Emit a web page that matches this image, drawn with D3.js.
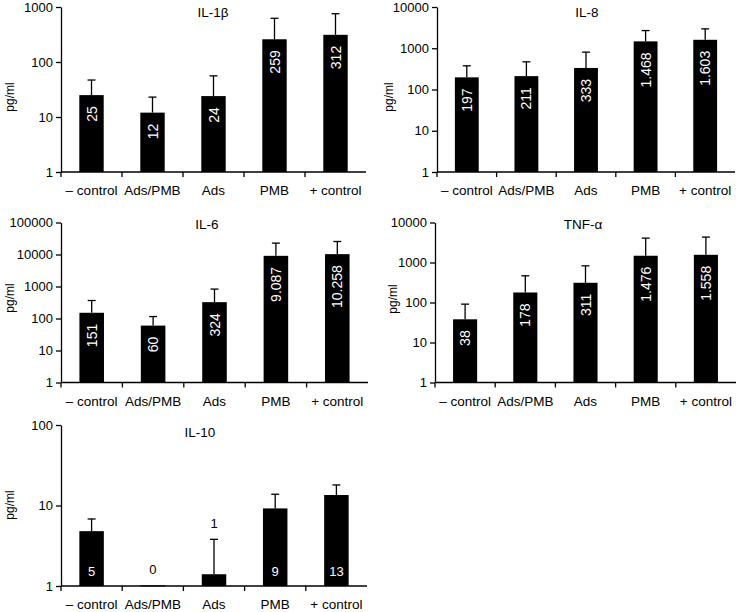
<!DOCTYPE html>
<html>
<head>
<meta charset="utf-8">
<script src="https://cdn.jsdelivr.net/npm/d3@7"></script>
<style>
  html, body { margin: 0; padding: 0; background: #fff; }
  svg { display: block; font-family: "Liberation Sans", Arial, Helvetica, sans-serif; }
</style>
</head>
<body>
<svg id="chart" width="736" height="612"></svg>
<script>
// ---------- data ----------
const categories = ["\u2013 control", "Ads/PMB", "Ads", "PMB", "+ control"];

const il1bTitle = "IL-1\u03B2";
const il1bMeans = [25, 12, 24, 259, 312];
const il1bErrTop = [47, 23, 56, 623, 755];
const il1bLabels = ["25", "12", "24", "259", "312"];
const il1bTicks = [1, 10, 100, 1000];

const il8Title = "IL-8";
const il8Means = [197, 211, 333, 1468, 1603];
const il8ErrTop = [375, 469, 805, 2684, 2950];
const il8Labels = ["197", "211", "333", "1.468", "1.603"];
const il8Ticks = [1, 10, 100, 1000, 10000];

const il6Title = "IL-6";
const il6Means = [151, 60, 324, 9087, 10258];
const il6ErrTop = [365, 115, 830, 22700, 25500];
const il6Labels = ["151", "60", "324", "9.087", "10.258"];
const il6Ticks = [1, 10, 100, 1000, 10000, 100000];

const tnfTitle = "TNF-\u03B1";
const tnfMeans = [38, 178, 311, 1476, 1558];
const tnfErrTop = [91, 465, 826, 4070, 4315];
const tnfLabels = ["38", "178", "311", "1.476", "1.558"];
const tnfTicks = [1, 10, 100, 1000, 10000];

const il10Title = "IL-10";
const il10Means = [4.8, 1.02, 1.4, 9.2, 13.5];
const il10ErrTop = [6.8, null, 3.8, 13.8, 18];
const il10Labels = ["5", "0", "1", "9", "13"];
const il10Ticks = [1, 10, 100];

const yLabel = "pg/ml";

// ---------- layout ----------
const panels = [
  { title: il1bTitle, means: il1bMeans, err: il1bErrTop, labels: il1bLabels, ticks: il1bTicks,
    x0: 61, x1: 366, yTop: 7, yBot: 172, titleX: 213, titleY: 17, ylabX: 10, ylabY: 97, rotated: true },
  { title: il8Title, means: il8Means, err: il8ErrTop, labels: il8Labels, ticks: il8Ticks,
    x0: 437, x1: 735, yTop: 7, yBot: 172, titleX: 587, titleY: 17, ylabX: 389, ylabY: 97, rotated: true },
  { title: il6Title, means: il6Means, err: il6ErrTop, labels: il6Labels, ticks: il6Ticks,
    x0: 61, x1: 368, yTop: 222.5, yBot: 382.5, titleX: 207, titleY: 229, ylabX: 10, ylabY: 298, rotated: true },
  { title: tnfTitle, means: tnfMeans, err: tnfErrTop, labels: tnfLabels, ticks: tnfTicks,
    x0: 435, x1: 736, yTop: 222.5, yBot: 382.5, titleX: 583, titleY: 229, ylabX: 393, ylabY: 299, rotated: true },
  { title: il10Title, means: il10Means, err: il10ErrTop, labels: il10Labels, ticks: il10Ticks,
    x0: 61, x1: 367, yTop: 425, yBot: 586, titleX: 200, titleY: 437, ylabX: 10, ylabY: 505, rotated: false }
];

const svg = d3.select("#chart");
const SW = 1.3;

panels.forEach(p => {
  const g = svg.append("g");
  const y = d3.scaleLog().domain([p.ticks[0], p.ticks[p.ticks.length - 1]]).range([p.yBot, p.yTop]);
  const x = d3.scaleBand().domain(categories).range([p.x0, p.x1]).paddingInner(0.6).paddingOuter(0.3);
  const step = (p.x1 - p.x0) / categories.length;

  // y axis
  const yAxis = d3.axisLeft(y).tickValues(p.ticks).tickFormat(d3.format("d")).tickSize(5).tickSizeOuter(0).tickPadding(3);
  const ya = g.append("g").attr("transform", `translate(${p.x0},0)`).call(yAxis);
  ya.select(".domain").attr("stroke", "#000").attr("stroke-width", SW);
  ya.selectAll(".tick line").attr("stroke", "#000").attr("stroke-width", SW);
  ya.selectAll(".tick text").attr("font-size", 13).attr("fill", "#000")
    .attr("font-family", "'Liberation Sans', Arial, Helvetica, sans-serif");

  // x axis line and boundary ticks
  g.append("line").attr("x1", p.x0).attr("x2", p.x1).attr("y1", p.yBot).attr("y2", p.yBot)
    .attr("stroke", "#000").attr("stroke-width", SW);
  g.selectAll(".xtick").data(d3.range(0, categories.length)).enter().append("line")
    .attr("x1", i => p.x0 + i * step).attr("x2", i => p.x0 + i * step)
    .attr("y1", p.yBot).attr("y2", p.yBot + 5)
    .attr("stroke", "#000").attr("stroke-width", SW);

  // category labels
  g.selectAll(".cat").data(categories).enter().append("text")
    .attr("x", d => x(d) + x.bandwidth() / 2).attr("y", p.yBot + 23)
    .attr("text-anchor", "middle").attr("font-size", 13.5).attr("fill", "#000")
    .text(d => d);

  // error bars
  const eb = categories.map((c, i) => ({ c, m: p.means[i], e: p.err[i] })).filter(d => d.e != null);
  g.selectAll(".ev").data(eb).enter().append("line")
    .attr("x1", d => x(d.c) + x.bandwidth() / 2).attr("x2", d => x(d.c) + x.bandwidth() / 2)
    .attr("y1", d => y(d.m)).attr("y2", d => y(d.e))
    .attr("stroke", "#000").attr("stroke-width", SW);
  g.selectAll(".ec").data(eb).enter().append("line")
    .attr("x1", d => x(d.c) + x.bandwidth() / 2 - 4).attr("x2", d => x(d.c) + x.bandwidth() / 2 + 4)
    .attr("y1", d => y(d.e)).attr("y2", d => y(d.e))
    .attr("stroke", "#000").attr("stroke-width", SW);

  // bars
  g.selectAll(".bar").data(categories).enter().append("rect")
    .attr("x", d => x(d)).attr("width", x.bandwidth())
    .attr("y", (d, i) => y(p.means[i]))
    .attr("height", (d, i) => Math.max(1, p.yBot - y(p.means[i])))
    .attr("fill", "#000");

  // value labels
  if (p.rotated) {
    g.selectAll(".val").data(categories).enter().append("text")
      .attr("transform", (d, i) => `translate(${x(d) + x.bandwidth() / 2},${y(p.means[i]) + 11}) rotate(-90)`)
      .attr("text-anchor", "end").attr("dy", "0.36em")
      .attr("font-size", 14).attr("fill", "#fff")
      .text((d, i) => p.labels[i]);
  } else {
    g.selectAll(".val").data(categories).enter().append("text")
      .attr("x", d => x(d) + x.bandwidth() / 2)
      .attr("y", (d, i) => {
        const inside = p.yBot - y(p.means[i]) > 25;
        if (inside) return p.yBot - 10;
        const top = Math.min(y(p.means[i]), p.err[i] != null ? y(p.err[i]) : Infinity);
        return top - 11;
      })
      .attr("text-anchor", "middle").attr("font-size", 13)
      .attr("fill", (d, i) => (p.yBot - y(p.means[i]) > 25) ? "#fff" : "#000")
      .text((d, i) => p.labels[i]);
  }

  // title
  g.append("text").attr("x", p.titleX).attr("y", p.titleY).attr("text-anchor", "middle")
    .attr("font-size", 13.5).attr("fill", "#000").text(p.title);

  // y label
  g.append("text").attr("transform", `translate(${p.ylabX},${p.ylabY}) rotate(-90)`)
    .attr("text-anchor", "middle").attr("dy", "0.35em").attr("font-size", 12).attr("fill", "#000")
    .text(yLabel);
});
</script>
</body>
</html>
